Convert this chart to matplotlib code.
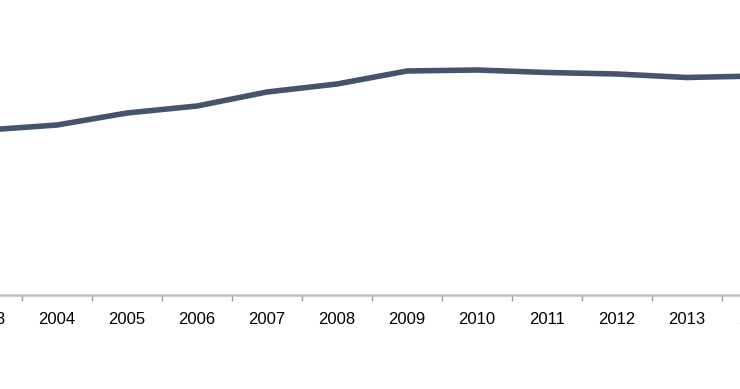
import matplotlib
matplotlib.use("Agg")
import matplotlib.pyplot as plt
from matplotlib import font_manager

years = ["2003", "2004", "2005", "2006", "2007", "2008", "2009", "2010", "2011", "2012", "2013", "2014"]
values = [165, 170, 182, 189, 203, 211, 224, 225, 222.5, 221, 217.5, 219]

names = {f.name for f in font_manager.fontManager.ttflist}
family = "Liberation Sans Narrow" if "Liberation Sans Narrow" in names else "Liberation Sans"
size = 13 if family == "Liberation Sans Narrow" else 12

fig = plt.figure(figsize=(7.4, 3.89), dpi=100)
# axes spans past the figure edges so the chart looks cropped
ax = fig.add_axes([-48 / 740, 94 / 389, 840 / 740, 295 / 389])

x = list(range(len(years)))
ax.plot(x, values, color="#44546a", linewidth=4.0, solid_capstyle="butt", solid_joinstyle="round")

ax.set_xlim(-0.5, len(years) - 0.5)
ax.set_ylim(0, 295)

for side in ["top", "right", "left"]:
    ax.spines[side].set_visible(False)
ax.spines["bottom"].set_color("#bfbfbf")
ax.spines["bottom"].set_linewidth(1.8)
ax.set_yticks([])

ax.set_xticks(x)
ax.set_xticklabels(years, fontfamily=family, fontsize=size, color="#000000")
ax.set_xticks([i + 0.5 for i in x[:-1]], minor=True)
ax.tick_params(axis="x", which="major", length=0, pad=12)
ax.tick_params(axis="x", which="minor", length=4, width=1, color="#9a9a9a")

fig.savefig("out.png", dpi=100)
